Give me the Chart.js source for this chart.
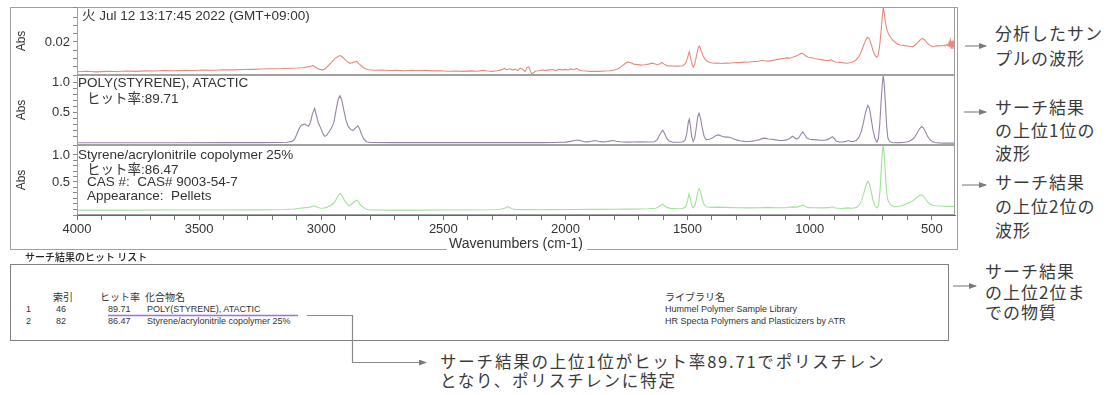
<!DOCTYPE html>
<html lang="ja">
<head>
<meta charset="utf-8">
<script src="https://cdn.jsdelivr.net/npm/chart.js@4/dist/chart.umd.min.js"></script>
<style>
body { margin: 0; width: 1115px; height: 395px; background: #fff; position: relative; overflow: hidden;
       font-family: "Liberation Sans", "Noto Sans CJK JP", sans-serif; color: #333; }
.a { position: absolute; white-space: pre; }
canvas { position: absolute; display: block; }
.pt { font-size: 13.5px; line-height: 14px; color: #333; }
.hw { font-family: "Noto Sans CJK JP", sans-serif; font-feature-settings: "hwid" 1; }
.note { font-family: "Noto Sans CJK JP", sans-serif; font-size: 17px; color: #3a3a3a; letter-spacing: 1px; }
.tb { font-size: 9px; line-height: 10px; color: #333; }
.th { font-family: "Noto Sans CJK JP", sans-serif; font-size: 10px; line-height: 12px; color: #333; }
</style>
</head>
<body>

<div class="a" style="left:10px;top:7px;width:946px;height:242px;border:1px solid #a0a0a0;border-bottom:none;"></div>
<div class="a" style="left:10px;top:249px;width:437px;height:1px;background:#a0a0a0;"></div>
<div class="a" style="left:587px;top:249px;width:370px;height:1px;background:#a0a0a0;"></div>

<canvas id="sampleChart" width="947" height="70" style="left:10px;top:6px;"></canvas>
<canvas id="polyChart" width="947" height="72" style="left:10px;top:74px;"></canvas>
<canvas id="sanChart" width="947" height="109" style="left:10px;top:144px;"></canvas>

<div class="a pt" style="left:82px;top:9px;">火 Jul 12 13:17:45 2022 (GMT+09:00)</div>
<div class="a pt" style="left:78px;top:76px;">POLY(STYRENE), ATACTIC</div>
<div class="a pt" style="left:87px;top:90px;"><span class="hw">ヒット</span>率:89.71</div>
<div class="a pt" style="left:78px;top:148px;">Styrene/acrylonitrile copolymer 25%</div>
<div class="a pt" style="left:87px;top:161px;"><span class="hw">ヒット</span>率:86.47</div>
<div class="a pt" style="left:87px;top:175px;">CAS #:  CAS# 9003-54-7</div>
<div class="a pt" style="left:87px;top:189px;">Appearance:  Pellets</div>

<div class="a note" style="left:995px;top:21px;line-height:24.5px;">分析したサン
プルの波形</div>
<div class="a note" style="left:995px;top:95px;line-height:23px;">サーチ結果
の上位1位の
波形</div>
<div class="a note" style="left:995px;top:170px;line-height:24px;">サーチ結果
の上位2位の
波形</div>
<div class="a note" style="left:985px;top:261px;line-height:20.5px;">サーチ結果
の上位2位ま
での物質</div>
<div class="a note" style="left:440px;top:352px;font-size:16.5px;line-height:19px;letter-spacing:1.8px;">サーチ結果の上位1位がヒット率89.71でポリスチレン
となり、ポリスチレンに特定</div>

<div class="a th" style="left:25px;top:251px;font-weight:500;color:#222;">サーチ結果のヒット リスト</div>
<div class="a" style="left:10px;top:264px;width:937px;height:75px;border:1px solid #808080;"></div>
<div id="hitTable"></div>

<svg class="a" width="1115" height="395" style="left:0;top:0;">
  <defs>
    <marker id="ah" markerWidth="8" markerHeight="6" refX="7" refY="3" orient="auto" markerUnits="userSpaceOnUse">
      <path d="M0,0 L8,3 L0,6 z" fill="#7a7a7a"/>
    </marker>
  </defs>
  <line x1="965" y1="46" x2="986" y2="46" stroke="#8a8a8a" stroke-width="1.2" marker-end="url(#ah)"/>
  <line x1="964" y1="112" x2="986" y2="112" stroke="#8a8a8a" stroke-width="1.2" marker-end="url(#ah)"/>
  <line x1="962" y1="185" x2="986" y2="185" stroke="#8a8a8a" stroke-width="1.2" marker-end="url(#ah)"/>
  <line x1="953" y1="286" x2="976" y2="286" stroke="#8a8a8a" stroke-width="1.2" marker-end="url(#ah)"/>
  <line x1="108" y1="315.5" x2="298" y2="315.5" stroke="#9b72d9" stroke-width="1.5"/>
  <polyline points="307,315.5 352.5,315.5 352.5,362.5 426,362.5" fill="none" stroke="#8a8a8a" stroke-width="1.2" marker-end="url(#ah)"/>
</svg>

<script>
// Spectra: [wavenumber (cm-1), absorbance]
const sampleSpectrum = [
  [4000,0.0020],[3960,0.0023],[3920,0.0019],[3880,0.0022],[3840,0.0021],[3800,0.0024],[3760,0.0022],[3720,0.0025],
  [3680,0.0024],[3640,0.0027],[3600,0.0026],[3560,0.0028],[3520,0.0027],[3480,0.0030],[3440,0.0029],[3400,0.0032],
  [3360,0.0031],[3320,0.0033],[3280,0.0034],[3240,0.0036],[3200,0.0038],[3160,0.0039],[3128,0.0041],[3100,0.0042],
  [3075,0.0044],[3055,0.0049],[3042,0.0053],[3034,0.0058],[3024,0.0047],[3012,0.0036],[2998,0.0031],[2988,0.0034],
  [2975,0.0050],[2960,0.0073],[2945,0.0098],[2932,0.0112],[2923,0.0118],[2914,0.0109],[2900,0.0090],[2885,0.0072],
  [2875,0.0073],[2862,0.0080],[2854,0.0082],[2845,0.0068],[2832,0.0050],[2820,0.0038],[2805,0.0032],[2780,0.0029],
  [2750,0.0030],[2720,0.0027],[2690,0.0028],[2660,0.0026],[2630,0.0029],[2600,0.0027],[2570,0.0028],[2540,0.0025],
  [2510,0.0026],[2480,0.0023],[2450,0.0024],[2420,0.0022],[2390,0.0025],[2360,0.0023],[2340,0.0028],[2320,0.0024],
  [2300,0.0022],[2280,0.0026],[2262,0.0031],[2250,0.0040],[2240,0.0032],[2228,0.0038],[2215,0.0030],[2205,0.0036],
  [2195,0.0027],[2185,0.0043],[2175,0.0033],[2165,0.0020],[2158,0.0045],[2150,0.0050],[2143,0.0021],[2137,0.0006],
  [2130,0.0015],[2122,0.0024],[2110,0.0026],[2095,0.0030],[2080,0.0028],[2065,0.0031],[2050,0.0033],[2040,0.0027],
  [2028,0.0035],[2015,0.0031],[2000,0.0034],[1990,0.0029],[1978,0.0037],[1965,0.0032],[1955,0.0040],[1945,0.0030],
  [1932,0.0026],[1915,0.0024],[1900,0.0022],[1880,0.0023],[1860,0.0022],[1840,0.0024],[1820,0.0026],[1800,0.0030],
  [1785,0.0038],[1770,0.0052],[1757,0.0068],[1745,0.0079],[1733,0.0074],[1720,0.0066],[1705,0.0063],[1690,0.0060],
  [1675,0.0062],[1660,0.0066],[1645,0.0072],[1635,0.0068],[1625,0.0062],[1615,0.0066],[1605,0.0076],[1596,0.0066],
  [1585,0.0057],[1565,0.0055],[1540,0.0054],[1520,0.0056],[1508,0.0070],[1500,0.0105],[1493,0.0142],[1487,0.0100],
  [1481,0.0060],[1476,0.0048],[1470,0.0070],[1463,0.0120],[1456,0.0168],[1451,0.0176],[1445,0.0150],[1437,0.0118],
  [1428,0.0095],[1418,0.0082],[1405,0.0074],[1390,0.0071],[1375,0.0073],[1360,0.0070],[1345,0.0072],[1330,0.0071],
  [1315,0.0074],[1300,0.0076],[1285,0.0075],[1270,0.0078],[1255,0.0077],[1240,0.0080],[1225,0.0082],[1210,0.0083],
  [1195,0.0089],[1185,0.0086],[1170,0.0084],[1155,0.0087],[1140,0.0092],[1125,0.0096],[1110,0.0100],[1095,0.0104],
  [1082,0.0102],[1070,0.0108],[1058,0.0114],[1045,0.0122],[1035,0.0132],[1026,0.0128],[1016,0.0115],[1005,0.0108],
  [992,0.0104],[980,0.0100],[968,0.0097],[955,0.0093],[942,0.0090],[930,0.0088],[920,0.0088],[912,0.0093],
  [905,0.0085],[895,0.0079],[882,0.0077],[870,0.0075],[858,0.0073],[848,0.0071],[836,0.0074],[824,0.0079],
  [812,0.0088],[802,0.0105],[792,0.0130],[782,0.0170],[772,0.0208],[764,0.0228],[757,0.0222],[749,0.0190],
  [741,0.0150],[733,0.0120],[726,0.0108],[720,0.0118],[714,0.0170],[708,0.0260],[703,0.0350],[699,0.0410],
  [695,0.0380],[690,0.0320],[684,0.0275],[677,0.0248],[670,0.0230],[660,0.0212],[650,0.0198],[640,0.0188],
  [630,0.0182],[620,0.0180],[610,0.0178],[600,0.0176],[590,0.0174],[578,0.0172],[568,0.0182],[558,0.0196],
  [548,0.0212],[538,0.0222],[530,0.0214],[521,0.0198],[512,0.0184],[503,0.0176],[496,0.0172],[488,0.0174],
  [480,0.0178],[472,0.0175],[464,0.0179],[456,0.0176],[450,0.0181],[444,0.0177],[438,0.0186],[433,0.0176],
  [429,0.0200],[426,0.0168],[423,0.0205],[420,0.0160],[417,0.0208],[414,0.0158],[411,0.0196],[408,0.0170],[405,0.0185]
];

const polystyreneSpectrum = [
  [4000,-0.012],[3800,-0.012],[3600,-0.012],[3400,-0.011],[3250,-0.010],[3170,-0.008],[3140,-0.004],[3120,0.010],
  [3108,0.050],[3098,0.150],[3090,0.230],[3082,0.275],[3074,0.290],[3066,0.300],[3058,0.270],[3052,0.265],
  [3044,0.330],[3036,0.470],[3027,0.560],[3020,0.450],[3012,0.320],[3003,0.240],[2995,0.160],[2986,0.095],
  [2978,0.110],[2968,0.170],[2957,0.240],[2948,0.330],[2938,0.560],[2930,0.720],[2923,0.770],[2916,0.700],
  [2908,0.540],[2899,0.370],[2890,0.260],[2880,0.210],[2870,0.190],[2860,0.230],[2850,0.270],[2843,0.220],
  [2835,0.130],[2826,0.050],[2815,0.005],[2800,-0.008],[2700,-0.010],[2600,-0.010],[2500,-0.011],[2400,-0.010],
  [2300,-0.011],[2200,-0.010],[2100,-0.010],[2050,-0.008],[2000,-0.002],[1980,0.010],[1965,0.025],[1950,0.033],
  [1938,0.020],[1925,0.005],[1910,0.002],[1895,0.012],[1880,0.024],[1866,0.012],[1850,0.002],[1835,0.004],
  [1820,0.015],[1806,0.024],[1792,0.012],[1775,0.003],[1750,-0.002],[1720,0.000],[1690,0.002],[1660,0.000],
  [1635,0.005],[1624,0.040],[1614,0.120],[1602,0.200],[1594,0.140],[1585,0.060],[1575,0.015],[1560,-0.005],
  [1540,-0.004],[1520,0.000],[1510,0.030],[1503,0.150],[1497,0.330],[1493,0.380],[1488,0.260],[1483,0.090],
  [1477,0.010],[1471,0.060],[1464,0.250],[1458,0.430],[1453,0.480],[1447,0.400],[1440,0.230],[1432,0.090],
  [1424,0.040],[1410,0.045],[1395,0.075],[1383,0.110],[1373,0.118],[1362,0.100],[1350,0.085],[1338,0.082],
  [1328,0.080],[1315,0.060],[1300,0.035],[1285,0.020],[1268,0.010],[1250,0.008],[1235,0.015],[1220,0.025],
  [1205,0.040],[1192,0.060],[1183,0.064],[1170,0.050],[1155,0.045],[1140,0.035],[1125,0.025],[1110,0.025],
  [1095,0.035],[1082,0.060],[1070,0.095],[1062,0.070],[1054,0.050],[1045,0.070],[1036,0.130],[1028,0.168],
  [1020,0.120],[1012,0.065],[1000,0.045],[985,0.040],[970,0.035],[955,0.030],[940,0.030],[928,0.040],
  [918,0.060],[907,0.088],[900,0.060],[892,0.015],[880,0.002],[865,0.000],[852,0.010],[842,0.025],
  [832,0.010],[820,0.008],[808,0.030],[798,0.080],[788,0.180],[779,0.340],[771,0.500],[762,0.610],
  [755,0.560],[748,0.380],[740,0.180],[732,0.050],[725,0.000],[719,0.050],[713,0.300],[708,0.650],
  [703,0.950],[699,1.110],[695,0.980],[690,0.650],[685,0.280],[680,0.070],[673,0.010],[663,-0.008],
  [650,-0.012],[635,-0.010],[620,-0.008],[605,0.000],[592,0.012],[580,0.040],[570,0.080],[560,0.150],
  [550,0.220],[542,0.258],[535,0.240],[527,0.180],[518,0.100],[508,0.040],[498,0.008],[488,-0.008],
  [470,-0.015],[450,-0.018],[430,-0.018],[405,-0.018]
];

const sanSpectrum = [
  [4000,-0.020],[3800,-0.020],[3600,-0.019],[3400,-0.018],[3250,-0.016],[3150,-0.010],[3110,0.000],[3087,0.015],
  [3065,0.025],[3050,0.030],[3038,0.045],[3030,0.060],[3020,0.040],[3005,0.020],[2992,0.015],[2978,0.030],
  [2962,0.065],[2948,0.110],[2936,0.200],[2927,0.270],[2922,0.290],[2915,0.250],[2905,0.160],[2895,0.100],
  [2887,0.060],[2878,0.080],[2866,0.130],[2856,0.165],[2850,0.150],[2840,0.080],[2828,0.030],[2815,-0.005],
  [2800,-0.018],[2700,-0.020],[2600,-0.020],[2500,-0.019],[2400,-0.018],[2320,-0.015],[2275,-0.008],[2255,0.005],
  [2245,0.025],[2238,0.045],[2230,0.030],[2220,0.005],[2205,-0.008],[2150,-0.012],[2100,-0.014],[2050,-0.012],
  [2000,-0.010],[1950,-0.008],[1900,-0.006],[1850,-0.006],[1800,-0.004],[1750,-0.002],[1700,0.000],[1660,0.005],
  [1630,0.015],[1615,0.050],[1603,0.090],[1595,0.060],[1585,0.030],[1570,0.012],[1545,0.006],[1520,0.010],
  [1508,0.040],[1500,0.150],[1494,0.280],[1489,0.200],[1483,0.060],[1477,0.020],[1470,0.060],[1463,0.200],
  [1457,0.340],[1453,0.380],[1447,0.320],[1440,0.180],[1432,0.080],[1422,0.040],[1400,0.030],[1375,0.035],
  [1350,0.030],[1300,0.022],[1250,0.020],[1200,0.022],[1180,0.030],[1150,0.025],[1100,0.022],[1070,0.040],
  [1050,0.035],[1038,0.055],[1028,0.072],[1018,0.045],[1005,0.025],[980,0.022],[950,0.020],[920,0.025],
  [907,0.042],[895,0.020],[870,0.010],[845,0.020],[825,0.015],[808,0.030],[798,0.070],[788,0.150],
  [779,0.280],[771,0.420],[763,0.510],[756,0.470],[748,0.320],[740,0.150],[732,0.050],[724,0.018],
  [718,0.060],[712,0.350],[707,0.750],[702,1.080],[699,1.180],[695,1.000],[690,0.650],[685,0.300],
  [680,0.170],[673,0.100],[663,0.060],[650,0.042],[635,0.050],[620,0.070],[605,0.095],[590,0.120],
  [575,0.160],[562,0.210],[550,0.250],[542,0.260],[535,0.240],[525,0.180],[515,0.120],[505,0.085],
  [496,0.070],[485,0.060],[470,0.055],[450,0.050],[430,0.048],[405,0.046]
];

// Tick positions and labels
const xTickValues = [4000,3900,3800,3700,3600,3500,3400,3300,3200,3100,3000,2900,2800,2700,2600,2500,2400,2300,
                     2200,2100,2000,1900,1800,1700,1600,1500,1400,1300,1200,1100,1000,900,800,700,600,500];
const xTickLabels = [4000, 3500, 3000, 2500, 2000, 1500, 1000, 500];
const sampleTickLabels = [0.02];
const polyTickLabels = [0.5, 1.0];
const sanTickLabels = [0.5, 1.0];

// Hit list
const hitRank = ["1", "2"];
const hitIndex = ["46", "82"];
const hitRate = ["89.71", "86.47"];
const hitName = ["POLY(STYRENE), ATACTIC", "Styrene/acrylonitrile copolymer 25%"];
const hitLibrary = ["Hummel Polymer Sample Library", "HR Specta Polymers and Plasticizers by ATR"];

Chart.defaults.font.family = '"Liberation Sans", Arial, sans-serif';
Chart.defaults.color = "#333";

const frameBox = {
    id: "frameBox",
    afterDraw(chart) {
        const a = chart.chartArea;
        const c = chart.ctx;
        c.save();
        c.strokeStyle = "#a0a0a0";
        c.lineWidth = 1;
        c.strokeRect(Math.round(a.left) + 0.5, Math.round(a.top) + 0.5,
                     Math.round(a.right - a.left) - 1, Math.round(a.bottom - a.top) - 1);
        c.restore();
    }
};

function makePanel(id, spectrum, color, yMin, yMax, yStep, yLabels, digits, showX) {
    return new Chart(document.getElementById(id), {
        type: "line",
        data: {
            datasets: [{
                data: spectrum.map(p => ({ x: p[0], y: p[1] })),
                borderColor: color,
                borderWidth: 1.1,
                pointRadius: 0,
                tension: 0,
                fill: false
            }]
        },
        options: {
            responsive: false,
            animation: false,
            devicePixelRatio: 1,
            events: [],
            plugins: { legend: { display: false }, tooltip: { enabled: false } },
            layout: { padding: { top: 1, right: 2, bottom: showX ? 0 : 1, left: 0 } },
            scales: {
                x: {
                    type: "linear",
                    display: showX,
                    reverse: true,
                    min: 405,
                    max: 4000,
                    border: { color: "#666" },
                    grid: { drawOnChartArea: false, tickLength: 5, color: "#777" },
                    ticks: {
                        autoSkip: false,
                        maxRotation: 0,
                        padding: 2,
                        font: { size: 13 },
                        color: "#333",
                        callback: v => xTickLabels.includes(Math.round(v)) ? String(Math.round(v)) : ""
                    },
                    title: {
                        display: true,
                        text: "Wavenumbers (cm-1)",
                        font: { size: 14 },
                        color: "#333",
                        padding: { top: 1, bottom: 0 }
                    },
                    afterBuildTicks: s => { s.ticks = xTickValues.map(v => ({ value: v })); },
                    afterFit: s => {
                        if (showX) s.height = 38;
                        s.paddingLeft = 0;
                        s.paddingRight = 0;
                    }
                },
                y: {
                    min: yMin,
                    max: yMax,
                    border: { color: "#777" },
                    grid: { drawOnChartArea: false, tickLength: 4, color: "#888" },
                    ticks: {
                        stepSize: yStep,
                        autoSkip: false,
                        padding: 3,
                        font: { size: 13 },
                        color: "#333",
                        callback: v => {
                            const hit = yLabels.find(t => Math.abs(t - v) < 1e-6);
                            return hit === undefined ? "" : hit.toFixed(digits);
                        }
                    },
                    title: { display: true, text: "Abs", font: { size: 12 }, color: "#333", padding: { top: 4, bottom: 4 } },
                    afterFit: s => { s.width = 67; s.paddingTop = 0; s.paddingBottom = 0; }
                }
            }
        },
        plugins: [frameBox]
    });
}

makePanel("sampleChart", sampleSpectrum, "#e8897b", 0, 0.0412, 0.005, sampleTickLabels, 2, false);
makePanel("polyChart", polystyreneSpectrum, "#9684a6", -0.05, 1.117, 0.1, polyTickLabels, 1, false);
makePanel("sanChart", sanSpectrum, "#a2e29a", -0.111, 1.185, 0.1, sanTickLabels, 1, true);

// Hit list table
function renderHits() {
    const box = document.getElementById("hitTable");
    let html = "";
    const head = [["索引", 53], ["ヒット率", 100], ["化合物名", 145], ["ライブラリ名", 665]];
    head.forEach(h => {
        html += `<div class="a th hw" style="left:${h[1]}px;top:291px;">${h[0]}</div>`;
    });
    hitRank.forEach((r, i) => {
        const top = 304 + i * 12;
        html += `<div class="a tb" style="left:26px;top:${top}px;">${r}</div>`;
        html += `<div class="a tb" style="left:56px;top:${top}px;">${hitIndex[i]}</div>`;
        html += `<div class="a tb" style="left:108px;top:${top}px;">${hitRate[i]}</div>`;
        html += `<div class="a tb" style="left:147px;top:${top}px;">${hitName[i]}</div>`;
        html += `<div class="a tb" style="left:665px;top:${top}px;">${hitLibrary[i]}</div>`;
    });
    box.innerHTML = html;
}
renderHits();
</script>
</body>
</html>
